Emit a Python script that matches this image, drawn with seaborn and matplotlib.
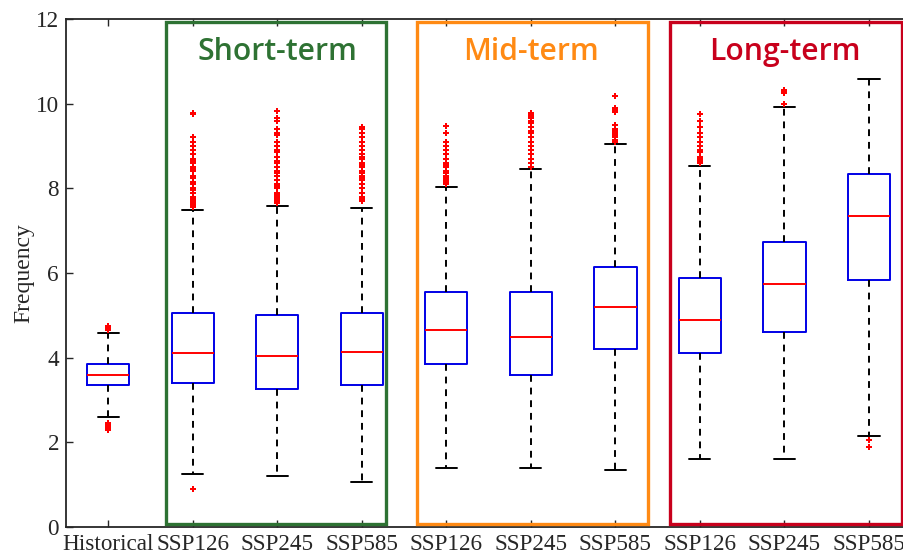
import numpy as np
import pandas as pd
import seaborn as sns
import matplotlib.pyplot as plt
from matplotlib.patches import Rectangle

# groups (unique keys) and the labels shown under them
groups = ['Historical', 'S126', 'S245', 'S585', 'M126', 'M245', 'M585', 'L126', 'L245', 'L585']
tick_labels = ['Historical', 'SSP126', 'SSP245', 'SSP585', 'SSP126', 'SSP245', 'SSP585',
               'SSP126', 'SSP245', 'SSP585']

# box statistics
whislo = [2.60, 1.25, 1.21, 1.06, 1.40, 1.40, 1.35, 1.60, 1.60, 2.15]
q1 = [3.35, 3.41, 3.25, 3.35, 3.85, 3.60, 4.20, 4.10, 4.60, 5.83]
median = [3.60, 4.10, 4.05, 4.14, 4.65, 4.50, 5.20, 4.89, 5.75, 7.34]
q3 = [3.85, 5.05, 5.00, 5.05, 5.55, 5.55, 6.13, 5.89, 6.74, 8.33]
whishi = [4.59, 7.49, 7.58, 7.54, 8.04, 8.45, 9.04, 8.53, 9.93, 10.58]

# outliers
fliers = {
    'Historical': [4.65, 4.68, 4.70, 4.72, 4.75, 2.30, 2.33, 2.36, 2.40, 2.45],
    'S126': [7.55, 7.60, 7.65, 7.70, 7.75, 7.80, 7.90, 7.95, 8.00, 8.10, 8.15, 8.25, 8.30,
             8.40, 8.45, 8.50, 8.60, 8.65, 8.70, 8.80, 8.90, 9.00, 9.10, 9.20, 9.75, 9.78, 0.90],
    'S245': [7.65, 7.70, 7.75, 7.80, 7.85, 7.90, 8.00, 8.05, 8.10, 8.20, 8.30, 8.35, 8.40,
             8.50, 8.60, 8.65, 8.75, 8.85, 8.90, 9.00, 9.10, 9.25, 9.30, 9.40, 9.60, 9.65, 9.83],
    'S585': [7.70, 7.75, 7.80, 7.90, 8.00, 8.10, 8.20, 8.25, 8.30, 8.35, 8.40, 8.50, 8.55,
             8.60, 8.70, 8.75, 8.80, 8.90, 9.00, 9.10, 9.20, 9.30, 9.40, 9.45],
    'M126': [8.10, 8.15, 8.20, 8.25, 8.30, 8.35, 8.40, 8.50, 8.55, 8.60, 8.70, 8.80, 8.90,
             9.00, 9.10, 9.30, 9.48],
    'M245': [8.50, 8.60, 8.70, 8.80, 8.90, 9.00, 9.10, 9.20, 9.30, 9.35, 9.45, 9.55, 9.60,
             9.65, 9.70, 9.75, 9.78],
    'M585': [9.10, 9.15, 9.20, 9.25, 9.30, 9.35, 9.40, 9.50, 9.80, 9.85, 9.90, 10.18],
    'L126': [8.60, 8.65, 8.70, 8.75, 8.85, 8.90, 9.00, 9.10, 9.20, 9.30, 9.45, 9.60, 9.75],
    'L245': [10.00, 10.25, 10.28, 10.32],
    'L585': [2.06, 1.90],
}

# period frames: (name, colour)
periods = [('Short-term', '#2E7233'), ('Mid-term', '#FF8A14'), ('Long-term', '#C8001C')]

# five values per group give exactly these quartiles; whiskers go to min/max
rows = []
for i, g in enumerate(groups):
    for v in (whislo[i], q1[i], median[i], q3[i], whishi[i]):
        rows.append((g, v))
box_df = pd.DataFrame(rows, columns=['group', 'value'])
out_df = pd.DataFrame([(g, v) for g in groups for v in fliers[g]], columns=['group', 'value'])

sns.set_style('white')
plt.rcParams['font.family'] = ['Liberation Serif', 'DejaVu Serif']

fig = plt.figure(figsize=(9.04, 5.56), dpi=100)
ax = fig.add_axes([0.073, 0.052, 0.935, 0.914])

sns.boxplot(data=box_df, x='group', y='value', order=groups, width=0.5, whis=np.inf,
            fill=False, linewidth=1.4, ax=ax,
            boxprops=dict(color='#0000E6'),
            medianprops=dict(color='#FF0000'),
            whiskerprops=dict(color='black', linestyle=(0, (3.5, 3))),
            capprops=dict(color='black'))
sns.stripplot(data=out_df, x='group', y='value', order=groups, jitter=False,
              marker='P', color='#FF0000', size=5, linewidth=0, ax=ax)

# coloured period frames
frame_x = [(0.683, 3.29), (3.654, 6.39), (6.65, 9.39)]
for (name, col), (x0, x1), xc in zip(periods, frame_x, [2, 5, 8]):
    ax.add_patch(Rectangle((x0, 0.07), x1 - x0, 11.86, fill=False, edgecolor=col,
                           linewidth=2.4, zorder=5))
    ax.text(xc, 11.03, name, color=col, ha='center', va='baseline', fontsize=21.7,
            fontfamily='Open Sans', fontweight='semibold')

ax.set_xlim(-0.5, 9.5)
ax.set_ylim(0, 12)
ax.set_yticks(range(0, 13, 2))
ax.set_xticks(range(len(groups)))
ax.set_xticklabels(tick_labels)
ax.set_xlabel('')
ax.set_ylabel('Frequency', fontsize=17, labelpad=1)
ax.tick_params(axis='both', direction='in', length=5, width=1, color='#262626',
               labelsize=16.7, top=True, right=True, left=True, bottom=True, pad=5)
for s in ax.spines.values():
    s.set_color('#262626')
    s.set_linewidth(1.3)

plt.savefig('out.png', dpi=100)
plt.close()
